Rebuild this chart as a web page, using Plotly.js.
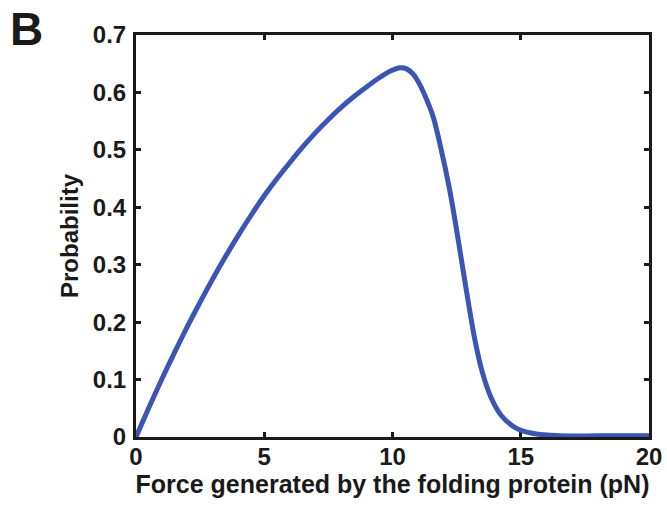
<!DOCTYPE html>
<html>
<head>
<meta charset="utf-8">
<script src="https://cdn.plot.ly/plotly-3.0.1.min.js"></script>
<style>html,body{margin:0;padding:0;background:#fff;}#chart{width:667px;height:506px;}</style>
</head>
<body>
<div id="chart"></div>
<script>
const force = [0, 0.5, 1.0, 1.5, 2.0, 2.5, 3.0, 3.5, 4.0, 4.5, 5.0, 5.5, 6.0, 6.5, 7.0, 7.5, 8.0, 8.5, 9.0, 9.5, 9.9, 10.3, 10.55, 10.8, 11.0, 11.2, 11.59, 11.9, 12.2, 12.45, 12.7, 12.95, 13.2, 13.5, 13.85, 14.25, 14.8, 15.5, 16.5, 18, 20];
const probability = [0, 0.051, 0.1, 0.147, 0.192, 0.235, 0.276, 0.315, 0.352, 0.387, 0.42, 0.45, 0.478, 0.505, 0.53, 0.553, 0.574, 0.593, 0.61, 0.626, 0.637, 0.643, 0.641, 0.632, 0.619, 0.601, 0.557, 0.5, 0.437, 0.374, 0.305, 0.236, 0.172, 0.113, 0.068, 0.037, 0.016, 0.006, 0.002, 0.002, 0.002];
const xTitle = "Force generated by the folding protein (pN)";
const yTitle = "Probability";
const panelLabel = "B";

const font = "Liberation Sans, Arial, Helvetica, sans-serif";
const ink = "#1a1a1a";
const axisCommon = {
  showline: true, linecolor: ink, linewidth: 3, mirror: "ticks",
  ticks: "inside", ticklen: 5, tickwidth: 3, tickcolor: ink,
  showgrid: false, zeroline: false, layer: "below traces",
  tickfont: {family: font, size: 24, color: ink, weight: "bold"}
};
const trace = {
  x: force, y: probability, type: "scatter", mode: "lines",
  line: {color: "#3a56b2", width: 5, shape: "spline", smoothing: 0.8},
  cliponaxis: false, hoverinfo: "none"
};
const layout = {
  width: 667, height: 506,
  margin: {l: 136, r: 18, t: 35, b: 69},
  paper_bgcolor: "#fff", plot_bgcolor: "#fff",
  showlegend: false,
  xaxis: Object.assign({}, axisCommon, {range: [0, 20], dtick: 5, tick0: 0, ticklabelstandoff: -4,
    title: {text: xTitle, font: {family: font, size: 25, color: ink, weight: "bold"}, standoff: 2}}),
  yaxis: Object.assign({}, axisCommon, {range: [0, 0.7], dtick: 0.1, tick0: 0, ticklabelstandoff: 2,
    title: {text: yTitle, font: {family: font, size: 24, color: ink, weight: "bold"}, standoff: 8}}),
  annotations: [{text: panelLabel, xref: "paper", yref: "paper", x: -0.25, y: 1.085,
    xanchor: "left", yanchor: "top", showarrow: false,
    font: {family: font, size: 46, color: ink, weight: "bold"}}]
};
Plotly.newPlot("chart", [trace], layout, {displayModeBar: false, staticPlot: true});
</script>
</body>
</html>
